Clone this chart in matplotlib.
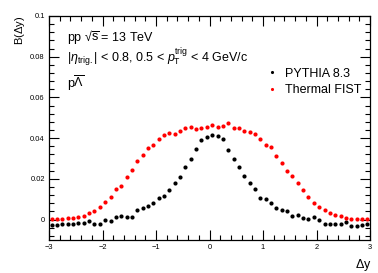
import numpy as np
import matplotlib
matplotlib.use('Agg')
import matplotlib.pyplot as plt
from matplotlib.ticker import MultipleLocator, FixedLocator, FuncFormatter

plt.rcParams['font.family'] = ['Liberation Sans', 'DejaVu Sans']
plt.rcParams['mathtext.fontset'] = 'custom'
plt.rcParams['mathtext.rm'] = 'Liberation Sans'
plt.rcParams['mathtext.it'] = 'Liberation Sans:italic'
plt.rcParams['mathtext.sf'] = 'Liberation Sans'

# bin centres in delta y
dy = np.round(np.arange(-2.95, 3.0, 0.1), 2)

# PYTHIA 8.3
pythia = [-0.0028, -0.0026, -0.0023, -0.0021, -0.0020, -0.0018, -0.0015, -0.0005, -0.0020, -0.0020,
          -0.0003, -0.0006, 0.0013, 0.0020, 0.0013, 0.0015, 0.0045, 0.0055, 0.0065, 0.0084,
          0.0106, 0.0117, 0.0145, 0.0182, 0.0209, 0.0259, 0.0297, 0.0348, 0.0391, 0.0407,
          0.0418, 0.0412, 0.0394, 0.0342, 0.0296, 0.0260, 0.0216, 0.0179, 0.0150, 0.0104,
          0.0100, 0.0080, 0.0058, 0.0047, 0.0043, 0.0020, 0.0024, 0.0008, 0.0005, 0.0012,
          -0.0003, -0.0020, -0.0020, -0.0023, -0.0020, -0.0011, -0.0030, -0.0029, -0.0025, -0.0021]

# Thermal FIST
fist = [0.0003, 0.0003, 0.0005, 0.0006, 0.0008, 0.0013, 0.0020, 0.0033, 0.0044, 0.0062,
        0.0089, 0.0111, 0.0148, 0.0166, 0.0211, 0.0242, 0.0289, 0.0317, 0.0350, 0.0368,
        0.0394, 0.0414, 0.0427, 0.0421, 0.0437, 0.0448, 0.0455, 0.0444, 0.0450, 0.0454,
        0.0464, 0.0454, 0.0460, 0.0477, 0.0448, 0.0450, 0.0437, 0.0431, 0.0420, 0.0397,
        0.0366, 0.0355, 0.0314, 0.0280, 0.0239, 0.0213, 0.0179, 0.0146, 0.0110, 0.0082,
        0.0064, 0.0046, 0.0033, 0.0023, 0.0016, 0.0008, 0.0005, 0.0003, 0.0003, 0.0003]

fig = plt.figure(figsize=(3.78, 2.73), dpi=100)
ax = fig.add_axes([49/378, 1-240/273, 321/378, 224/273])

ax.plot(dy, pythia, 'o', color='black', ms=3.0, mew=0, label='PYTHIA 8.3')
ax.plot(dy, fist, 'o', color='red', ms=3.0, mew=0, label='Thermal FIST')

ax.set_xlim(-3, 3)
ax.set_ylim(-0.01, 0.1)
ax.xaxis.set_major_locator(MultipleLocator(1))
ax.xaxis.set_minor_locator(MultipleLocator(0.2))
ax.yaxis.set_major_locator(FixedLocator([0, 0.02, 0.04, 0.06, 0.08, 0.1]))
ax.yaxis.set_minor_locator(MultipleLocator(0.004))
ax.yaxis.set_major_formatter(FuncFormatter(lambda v, p: '0' if abs(v) < 1e-9 else ('%.2f' % v).rstrip('0')))
ax.tick_params(which='both', direction='in', top=True, right=True, labelsize=5.4, width=0.8)
ax.tick_params(which='major', length=7, pad=3)
ax.tick_params(which='minor', length=3.5)
for s in ax.spines.values():
    s.set_linewidth(0.9)

ax.set_ylabel(r'B($\Delta$y)', fontsize=8, loc='top')
ax.yaxis.set_label_coords(-0.07, 1.0)
ax.set_xlabel(r'$\Delta$y', fontsize=9, loc='right')
ax.xaxis.set_label_coords(1.005, -0.075)

ax.text(0.057, 0.888, r'pp √$\overline{\rm s}$ = 13 TeV', transform=ax.transAxes, fontsize=9, va='baseline')
ax.text(0.057, 0.795, r'$|\eta_{\rm trig.}|$ < 0.8, 0.5 < $p_{\rm T}^{\rm trig}$ < 4 GeV/c', transform=ax.transAxes, fontsize=9, va='baseline')
ax.text(0.057, 0.679, r'p$\overline{\Lambda}$', transform=ax.transAxes, fontsize=9, va='baseline')

ax.legend(loc='upper left', bbox_to_anchor=(0.657, 0.797), frameon=False, fontsize=9,
          handlelength=1.0, handletextpad=0.5, labelspacing=0.35, markerscale=0.75, borderpad=0)

fig.savefig('out.png', dpi=100)
